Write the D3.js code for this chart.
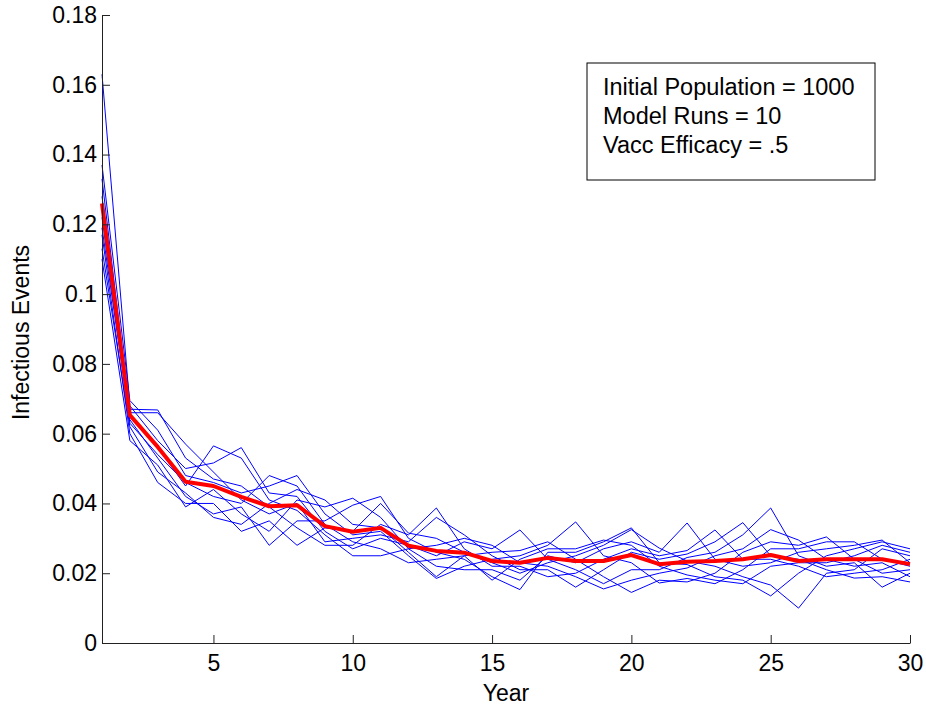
<!DOCTYPE html>
<html>
<head>
<meta charset="utf-8">
<script src="https://cdn.jsdelivr.net/npm/d3@7"></script>
<style>
  body { margin: 0; background: #fff; }
  svg { display: block; font-family: "Liberation Sans", Arial, sans-serif; }
</style>
</head>
<body>
<div id="chart"></div>
<script>
// years on the x axis
const years = d3.range(1, 31);

// ten model runs
const run0 = [0.137, 0.0695, 0.061, 0.048, 0.046, 0.043, 0.045, 0.048, 0.037, 0.031, 0.032, 0.025, 0.0185, 0.022, 0.024, 0.025, 0.028, 0.0347, 0.025, 0.023, 0.0172, 0.0185, 0.017, 0.021, 0.027, 0.027, 0.029, 0.029, 0.024, 0.022];
const run1 = [0.128, 0.066, 0.066, 0.057, 0.049, 0.041, 0.037, 0.040, 0.029, 0.030, 0.031, 0.029, 0.036, 0.031, 0.025, 0.021, 0.021, 0.016, 0.021, 0.026, 0.024, 0.0255, 0.029, 0.0345, 0.025, 0.024, 0.021, 0.0186, 0.019, 0.0175];
const run2 = [0.119, 0.064, 0.053, 0.042, 0.037, 0.039, 0.028, 0.035, 0.035, 0.0395, 0.042, 0.030, 0.026, 0.024, 0.019, 0.0153, 0.026, 0.026, 0.029, 0.033, 0.023, 0.0225, 0.019, 0.018, 0.0135, 0.020, 0.025, 0.027, 0.029, 0.027];
const run3 = [0.163, 0.068, 0.058, 0.050, 0.0516, 0.056, 0.043, 0.042, 0.032, 0.027, 0.030, 0.028, 0.025, 0.029, 0.027, 0.0324, 0.024, 0.021, 0.017, 0.021, 0.021, 0.0245, 0.026, 0.031, 0.0387, 0.025, 0.022, 0.023, 0.016, 0.020];
const run4 = [0.113, 0.062, 0.049, 0.043, 0.036, 0.034, 0.040, 0.044, 0.041, 0.034, 0.033, 0.026, 0.019, 0.025, 0.018, 0.024, 0.027, 0.027, 0.0295, 0.028, 0.022, 0.0195, 0.018, 0.017, 0.022, 0.023, 0.023, 0.025, 0.028, 0.026];
const run5 = [0.125, 0.067, 0.0668, 0.053, 0.047, 0.045, 0.039, 0.033, 0.028, 0.028, 0.034, 0.031, 0.0387, 0.027, 0.022, 0.022, 0.019, 0.020, 0.024, 0.027, 0.025, 0.0265, 0.0324, 0.024, 0.024, 0.022, 0.019, 0.020, 0.021, 0.024];
const run6 = [0.117, 0.060, 0.046, 0.040, 0.040, 0.032, 0.035, 0.028, 0.033, 0.032, 0.040, 0.0315, 0.030, 0.026, 0.023, 0.020, 0.023, 0.025, 0.028, 0.0325, 0.0272, 0.0235, 0.022, 0.019, 0.0166, 0.0100, 0.020, 0.021, 0.027, 0.025];
const run7 = [0.133, 0.065, 0.056, 0.045, 0.0565, 0.053, 0.041, 0.038, 0.031, 0.025, 0.025, 0.027, 0.028, 0.030, 0.028, 0.023, 0.022, 0.019, 0.0155, 0.018, 0.020, 0.0215, 0.025, 0.027, 0.0325, 0.0295, 0.024, 0.022, 0.023, 0.019];
const run8 = [0.110, 0.058, 0.051, 0.039, 0.044, 0.037, 0.032, 0.041, 0.039, 0.0415, 0.036, 0.027, 0.022, 0.021, 0.021, 0.018, 0.025, 0.023, 0.027, 0.029, 0.026, 0.0344, 0.024, 0.022, 0.023, 0.026, 0.027, 0.028, 0.0295, 0.023];
const run9 = [0.122, 0.063, 0.054, 0.046, 0.042, 0.040, 0.048, 0.045, 0.034, 0.029, 0.027, 0.023, 0.024, 0.025, 0.026, 0.0265, 0.029, 0.024, 0.019, 0.0145, 0.018, 0.0175, 0.020, 0.026, 0.029, 0.028, 0.0304, 0.024, 0.020, 0.021];

// mean of the runs (red line)
const meanRun = [0.126, 0.0653, 0.0562, 0.0462, 0.045, 0.0419, 0.0392, 0.0395, 0.0335, 0.0319, 0.033, 0.0279, 0.0264, 0.0259, 0.0235, 0.023, 0.0244, 0.0235, 0.0235, 0.0252, 0.0226, 0.0233, 0.0235, 0.024, 0.0252, 0.0235, 0.024, 0.024, 0.024, 0.0226];

const runs = [run0, run1, run2, run3, run4, run5, run6, run7, run8, run9];

const xTicks = [5, 10, 15, 20, 25, 30];
const yTicks = [0, 0.02, 0.04, 0.06, 0.08, 0.1, 0.12, 0.14, 0.16, 0.18];
const noteLines = ["Initial Population = 1000", "Model Runs = 10", "Vacc Efficacy = .5"];

const width = 926;
const height = 706;
const margin = { top: 15, right: 16, bottom: 63, left: 102 };

const svg = d3.select("#chart").append("svg")
    .attr("width", width)
    .attr("height", height);

const x = d3.scaleLinear().domain([1, 30]).range([margin.left, width - margin.right]);
const y = d3.scaleLinear().domain([0, 0.18]).range([height - margin.bottom, margin.top]);

const line = d3.line()
    .x((d, i) => x(years[i]))
    .y(d => y(d));

// blue runs
svg.append("g")
    .selectAll("path")
    .data(runs)
    .join("path")
    .attr("d", line)
    .attr("fill", "none")
    .attr("stroke", "#0000ff")
    .attr("stroke-width", 1);

// mean line
svg.append("path")
    .datum(meanRun)
    .attr("d", line)
    .attr("fill", "none")
    .attr("stroke", "#ff0000")
    .attr("stroke-width", 4)
    .attr("stroke-linejoin", "round");

// axes, ticks pointing inward
const fmt = d => String(+d.toFixed(2));

const yAxis = svg.append("g")
    .attr("transform", `translate(${margin.left},0)`)
    .call(d3.axisLeft(y).tickValues(yTicks).tickFormat(fmt).tickSizeInner(-8).tickSizeOuter(0).tickPadding(5));

const xAxis = svg.append("g")
    .attr("transform", `translate(0,${height - margin.bottom})`)
    .call(d3.axisBottom(x).tickValues(xTicks).tickSizeInner(-8).tickSizeOuter(0).tickPadding(12));

[yAxis, xAxis].forEach(g => {
    g.selectAll("text").attr("font-size", 23).attr("fill", "#000").attr("font-family", null);
    g.selectAll("line, path").attr("stroke", "#222");
});

// axis labels
svg.append("text")
    .attr("x", x(15.5))
    .attr("y", 701)
    .attr("text-anchor", "middle")
    .attr("font-size", 23)
    .text("Year");

svg.append("text")
    .attr("transform", `translate(29,${y(0.089)}) rotate(-90)`)
    .attr("text-anchor", "middle")
    .attr("font-size", 23)
    .text("Infectious Events");

// note box
const note = svg.append("g").attr("transform", "translate(587,63)");
note.append("rect")
    .attr("width", 288)
    .attr("height", 117)
    .attr("fill", "#fff")
    .attr("stroke", "#000")
    .attr("stroke-width", 1);

note.selectAll("text")
    .data(noteLines)
    .join("text")
    .attr("x", 16)
    .attr("y", (d, i) => 32 + i * 29)
    .attr("font-size", 23.5)
    .text(d => d);
</script>
</body>
</html>
